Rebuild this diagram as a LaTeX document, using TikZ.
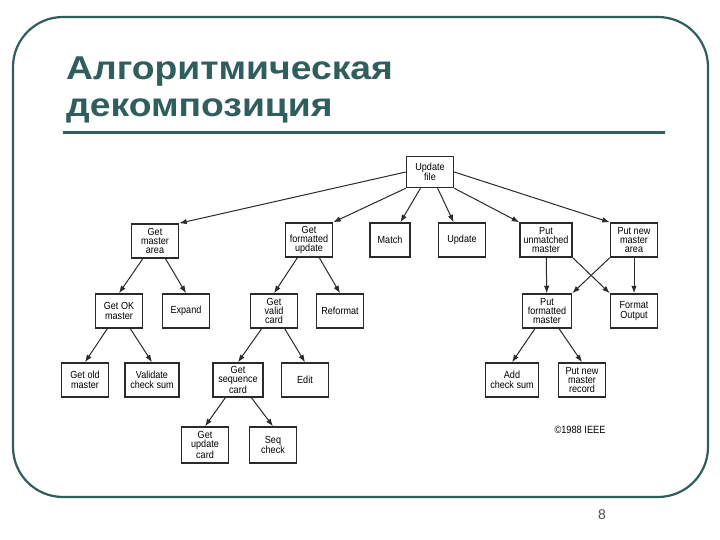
\documentclass[tikz,border=0pt]{standalone}
\usepackage{fontspec}
\setmainfont{Liberation Sans}
\newfontfamily\titlefont[FakeStretch=1.13]{Liberation Sans}
\newfontfamily\boxfont[FakeStretch=0.88]{Liberation Sans}
\usepackage{tikz}
\usetikzlibrary{shapes,arrows.meta}
\usetikzlibrary{calc}
\usepackage{xcolor}
\definecolor{slideteal}{HTML}{2F5E5C}
\definecolor{boxline}{HTML}{2A2A2A}

\begin{document}
\begin{tikzpicture}[auto, x=1bp, y=-1bp, >={Latex[length=7.5bp,width=5.5bp]},
    block/.style={draw=boxline, line width=1.5bp, fill=white, minimum width=47bp,
      minimum height=34bp, inner sep=1bp, align=center,
      font=\boxfont\fontsize{10.3bp}{9.4bp}\selectfont},
    heading/.style={anchor=base west, text=slideteal, inner sep=0pt,
      font=\titlefont\fontsize{33bp}{37bp}\selectfont\bfseries},
    link/.style={->, draw=boxline, line width=1bp}]
    % frame and title
\useasboundingbox (0,0) rectangle (720,540);
\draw[slideteal, line width=2.2bp, rounded corners=50bp] (13,17) rectangle (708,497);
\node[heading] (title1) at (66,80) {Алгоритмическая};
\node[heading] (title2) at (66,117) {декомпозиция};
\draw[slideteal, line width=3bp] (63,133) -- (665,133);
\node[font=\fontsize{14bp}{14bp}\selectfont, text=black!70] (page) at (602,515) {8};

    % We start by placing the blocks
\node[block, minimum height=31bp] (upd) at (430,172) {Update\\file};

\node[block] (gma) at (155,241) {Get\\master\\area};
\node[block] (gfu) at (309,240) {Get\\formatted\\update};
\node[block, minimum width=40bp] (match) at (390,240) {Match};
\node[block] (update) at (462,240) {Update};
\node[block, minimum width=52bp] (pum) at (546,240) {Put\\unmatched\\master};
\node[block] (pnma) at (634,240) {Put new\\master\\area};

\node[block] (gok) at (119,311) {Get OK\\master};
\node[block] (expand) at (186,311) {Expand};
\node[block] (gvc) at (274,311) {Get\\valid\\card};
\node[block] (reformat) at (340,311) {Reformat};
\node[block, minimum width=49bp] (pfm) at (547,311) {Put\\formatted\\master};
\node[block] (fout) at (634,311) {Format\\Output};

\node[block] (gom) at (85,380) {Get old\\master};
\node[block, minimum width=54bp] (vcs) at (152,380) {Validate\\check sum};
\node[block, minimum width=50bp] (gsc) at (238,380) {Get\\sequence\\card};
\node[block] (edit) at (305,380) {Edit};
\node[block, minimum width=53bp] (acs) at (512,380) {Add\\check sum};
\node[block] (pnmr) at (582,380) {Put new\\master\\record};

\node[block, minimum height=36bp] (guc) at (205,445) {Get\\update\\card};
\node[block, minimum height=36bp] (seq) at (273,445) {Seq\\check};

\node[font=\boxfont\fontsize{10.5bp}{10.5bp}\selectfont] (ieee) at (580,430) {\textcopyright1988 IEEE};

    % Connect the blocks
\draw[link] (upd.west) -- (gma.north east);
\draw[link] (upd.south west) -- (gfu.north east);
\draw[link] (upd) -- (match);
\draw[link] (upd) -- (update);
\draw[link] (upd.south east) -- (pum.north west);
\draw[link] (upd.east) -- (pnma.north west);

\foreach \from/\to in {gma/gok, gma/expand, gfu/gvc, gfu/reformat,
                       gok/gom, gok/vcs, gvc/gsc, gvc/edit,
                       gsc/guc, gsc/seq, pfm/acs, pfm/pnmr}
    \draw[link] (\from) -- (\to.north);

\draw[link] (pum) -- (pfm);
\draw[link] (pnma) -- (fout);
\draw[link] (pum.south east) -- (fout.north west);
\draw[link] (pnma.south west) -- (pfm.north east);

\end{tikzpicture}
\end{document}
